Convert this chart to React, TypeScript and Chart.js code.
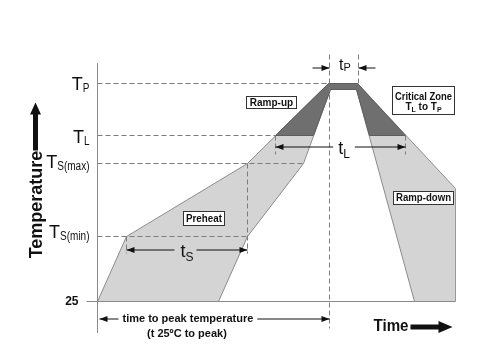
import React, { useEffect, useRef } from 'react';
import { Chart, registerables } from 'chart.js';

Chart.register(...registerables);

// ---- Data (time units along x, temperature-level units along y; schematic profile) ----
const envelopeTime = [0, 29, 150, 231, 260, 358, 358, 317, 259, 233, 206, 150, 121, 0];
const envelopeTemp = [0, 65, 138, 218, 218, 113, 0, 0, 212, 212, 138, 65, 0, 0];

const criticalTime = [178, 231, 260, 308, 272, 259, 233, 216, 178];
const criticalTemp = [166, 218, 218, 166, 166, 212, 212, 166, 166];

// temperature levels: 25, Ts(min), Ts(max), TL, TP
const levelValues = [0, 65, 138, 166, 218];
const levelMain = ['25', 'T', 'T', 'T', 'T'];
const levelSub = ['', 'S(min)', 'S(max)', 'L', 'P'];
const levelGuideEnd = [0, 150, 206, 178, 231];

// time spans
const tsSpan = [29, 150];
const tLSpan = [178, 308];
const tpSpan = [232, 261];
const peakSpan = [0, 232];

// zone labels
const zoneNames = ['Ramp-up', 'Preheat', 'Ramp-down'];
const zoneX = [[148, 198], [85, 126], [295, 355]];
const zoneY = [[206, 194], [91, 77], [111, 98]];

const X_MAX = 358;
const Y_MAX = 238;

const FONT = 'Arial, "Liberation Sans", Helvetica, sans-serif';
const GUIDE = '#7c7c7c';
const AXIS = '#8a8a8a';
const INK = '#111111';

const seg = (x0: number, y0: number, x1: number, y1: number) => [
  { x: x0, y: y0 },
  { x: x1, y: y1 },
];

const guideSegments: { x: number; y: number }[][] = [
  ...levelValues.slice(1).map((v, i) => seg(0, v, levelGuideEnd[i + 1], v)),
  seg(tsSpan[1], levelValues[2], tsSpan[1], 48),
  seg(tsSpan[0], levelValues[1], tsSpan[0], 48),
  seg(tpSpan[0], 247, tpSpan[0], -27),
  seg(tpSpan[1], 247, tpSpan[1], levelValues[4]),
  seg(tLSpan[0], levelValues[3], tLSpan[0], 147),
  seg(tLSpan[1], levelValues[3], tLSpan[1], 147),
];

function subText(
  ctx: CanvasRenderingContext2D,
  main: string,
  sub: string,
  x: number,
  y: number,
  mainFont: string,
  subFont: string,
  subDy: number,
  align: 'left' | 'right' | 'center',
  subScale = 1
) {
  ctx.font = mainFont;
  const w1 = ctx.measureText(main).width;
  ctx.font = subFont;
  const w2 = sub ? ctx.measureText(sub).width * subScale : 0;
  const total = w1 + w2;
  const x0 = align === 'left' ? x : align === 'right' ? x - total : x - total / 2;
  ctx.textAlign = 'left';
  ctx.textBaseline = 'alphabetic';
  ctx.font = mainFont;
  ctx.fillText(main, x0, y);
  if (sub) {
    ctx.font = subFont;
    ctx.fillText(sub, x0 + w1, y + subDy, w2);
  }
  return [x0, x0 + total];
}

function head(ctx: CanvasRenderingContext2D, tipX: number, y: number, dir: number) {
  ctx.beginPath();
  ctx.moveTo(tipX, y);
  ctx.lineTo(tipX - dir * 8, y - 3);
  ctx.lineTo(tipX - dir * 8, y + 3);
  ctx.closePath();
  ctx.fill();
}

function hLine(ctx: CanvasRenderingContext2D, a: number, b: number, y: number) {
  ctx.beginPath();
  ctx.moveTo(a, y);
  ctx.lineTo(b, y);
  ctx.stroke();
}

const overlay = {
  id: 'overlay',
  afterDatasetsDraw(chart: any) {
    const ctx: CanvasRenderingContext2D = chart.ctx;
    const px = (v: number) => chart.scales.x.getPixelForValue(v);
    const py = (v: number) => chart.scales.y.getPixelForValue(v);
    ctx.save();
    ctx.fillStyle = INK;
    ctx.strokeStyle = INK;
    ctx.lineWidth = 1;

    // level labels
    const nudges = [0, 1, 4, 7, 6];
    levelValues.forEach((v, i) => {
      if (i === 0) {
        ctx.font = `bold 12px ${FONT}`;
        ctx.textAlign = 'right';
        ctx.textBaseline = 'middle';
        ctx.fillText(levelMain[i], px(-19), py(v));
      } else {
        subText(ctx, levelMain[i], levelSub[i], px(-8), py(v) + nudges[i], `18px ${FONT}`, `12.5px ${FONT}`, 2, 'right', 0.8);
      }
    });

    // ts arrow
    {
      const y = py(52) + 0.5;
      const a = px(tsSpan[0]);
      const b = px(tsSpan[1]);
      const c = (a + b) / 2;
      const [l, r] = subText(ctx, 't', 'S', c, y + 7, `18px ${FONT}`, `12px ${FONT}`, 4, 'center');
      hLine(ctx, a, l - 6, y);
      hLine(ctx, r + 3, b, y);
      head(ctx, a, y, -1);
      head(ctx, b, y, 1);
    }
    // tL arrow
    {
      const y = py(155) + 0.5;
      const a = px(tLSpan[0]);
      const b = px(tLSpan[1]);
      const c = px((tpSpan[0] + tpSpan[1]) / 2);
      const [l, r] = subText(ctx, 't', 'L', c, y + 7, `18px ${FONT}`, `12px ${FONT}`, 4, 'center');
      hLine(ctx, a, l - 5, y);
      hLine(ctx, r + 5, b, y);
      head(ctx, a, y, -1);
      head(ctx, b, y, 1);
    }
    // tp arrows
    {
      const y = py(234) + 0.5;
      const a = px(tpSpan[0]);
      const b = px(tpSpan[1]);
      hLine(ctx, a - 17, a, y);
      hLine(ctx, b, b + 17, y);
      head(ctx, a, y, 1);
      head(ctx, b, y, -1);
      subText(ctx, 't', 'P', (a + b) / 2 + 1, py(232), `16px ${FONT}`, `11px ${FONT}`, 1, 'center');
    }
    // time to peak
    {
      const y = py(-17) + 0.5;
      const a = px(peakSpan[0]);
      const b = px(peakSpan[1]);
      ctx.font = `bold 11px ${FONT}`;
      ctx.textAlign = 'left';
      ctx.textBaseline = 'middle';
      const text = 'time to peak temperature';
      const tx = px(25);
      const w = ctx.measureText(text).width;
      ctx.fillText(text, tx, y);
      hLine(ctx, a + 2, tx - 4, y);
      hLine(ctx, tx + w + 4, b, y);
      head(ctx, a + 2, y, -1);
      head(ctx, b, y, 1);
      ctx.textAlign = 'center';
      ctx.fillText('(t 25ºC to peak)', tx + w / 2 - 1, py(-32));
    }

    // zone boxes
    const box = (x0: number, x1: number, y0: number, y1: number) => {
      const L = Math.round(px(x0)) + 0.5;
      const R = Math.round(px(x1)) + 0.5;
      const T = Math.round(py(y0)) + 0.5;
      const B = Math.round(py(y1)) + 0.5;
      ctx.fillStyle = '#ffffff';
      ctx.fillRect(L, T, R - L, B - T);
      ctx.strokeStyle = '#333333';
      ctx.strokeRect(L, T, R - L, B - T);
      ctx.fillStyle = INK;
      return { L, R, T, B };
    };
    zoneNames.forEach((name, i) => {
      const { L, R, T, B } = box(zoneX[i][0], zoneX[i][1], zoneY[i][0], zoneY[i][1]);
      ctx.font = `bold 10px ${FONT}`;
      ctx.textAlign = 'center';
      ctx.textBaseline = 'middle';
      ctx.fillText(name, (L + R) / 2, (T + B) / 2 + 0.5, R - L - 5);
    });
    {
      const { L, R, T } = box(294, 356, 216, 188);
      const c = (L + R) / 2;
      ctx.font = `bold 10px ${FONT}`;
      ctx.textAlign = 'center';
      ctx.textBaseline = 'alphabetic';
      ctx.fillText('Critical Zone', c, T + 13, R - L - 5);
      // "TL to TP"
      const mf = `bold 10px ${FONT}`;
      const sf = `bold 7px ${FONT}`;
      ctx.font = mf;
      const wT = ctx.measureText('T').width;
      const wTo = ctx.measureText(' to ').width;
      ctx.font = sf;
      const wL = ctx.measureText('L').width;
      const wP = ctx.measureText('P').width;
      const total = wT * 2 + wTo + wL + wP;
      let x = c - total / 2;
      const by = T + 23;
      ctx.textAlign = 'left';
      ctx.font = mf; ctx.fillText('T', x, by); x += wT;
      ctx.font = sf; ctx.fillText('L', x, by + 2); x += wL;
      ctx.font = mf; ctx.fillText(' to ', x, by); x += wTo;
      ctx.fillText('T', x, by); x += wT;
      ctx.font = sf; ctx.fillText('P', x, by + 2);
    }

    // Temperature axis title with arrow
    {
      const cx = px(-62);
      const tip = py(199);
      const base = py(151);
      ctx.fillStyle = INK;
      ctx.beginPath();
      ctx.moveTo(cx, tip);
      ctx.lineTo(cx - 5.5, tip + 12);
      ctx.lineTo(cx + 5.5, tip + 12);
      ctx.closePath();
      ctx.fill();
      ctx.fillRect(cx - 2.5, tip + 11, 5, base - tip - 11);
      ctx.save();
      ctx.translate(cx, py(97));
      ctx.rotate(-Math.PI / 2);
      ctx.font = `bold 18px ${FONT}`;
      ctx.textAlign = 'center';
      ctx.textBaseline = 'alphabetic';
      ctx.fillText('Temperature', 0, 6.5);
      ctx.restore();
    }
    // Time axis title with arrow
    {
      const ty = py(-25);
      ctx.font = `bold 17px ${FONT}`;
      ctx.textAlign = 'left';
      ctx.textBaseline = 'middle';
      ctx.fillText('Time', px(276), ty, 35);
      const a = px(313);
      const b = px(355);
      ctx.fillRect(a, ty - 2, b - a - 12, 5);
      ctx.beginPath();
      ctx.moveTo(b, ty + 0.5);
      ctx.lineTo(b - 14, ty - 5.5);
      ctx.lineTo(b - 14, ty + 6.5);
      ctx.closePath();
      ctx.fill();
    }
    ctx.restore();
  },
};

export default function App() {
  const ref = useRef<HTMLCanvasElement>(null);
  useEffect(() => {
    if (!ref.current) return;
    const datasets: any[] = [
      {
        data: envelopeTime.map((t, i) => ({ x: t, y: envelopeTemp[i] })),
        showLine: true,
        fill: 'shape',
        backgroundColor: '#d4d4d4',
        borderColor: '#8c8c8c',
        borderWidth: 1,
        pointRadius: 0,
        tension: 0,
        order: 10,
      },
      {
        data: criticalTime.map((t, i) => ({ x: t, y: criticalTemp[i] })),
        showLine: true,
        fill: 'shape',
        backgroundColor: '#6f6f6f',
        borderColor: '#5e5e5e',
        borderWidth: 1,
        pointRadius: 0,
        tension: 0,
        order: 9,
      },
      ...guideSegments.map((s) => ({
        data: s,
        showLine: true,
        fill: false,
        borderColor: GUIDE,
        borderWidth: 1,
        borderDash: [5, 3],
        pointRadius: 0,
        clip: false,
        order: 5,
      })),
      {
        data: seg(0, Y_MAX, 0, -31),
        showLine: true,
        fill: false,
        borderColor: AXIS,
        borderWidth: 1,
        pointRadius: 0,
        clip: false,
        order: 4,
      },
      {
        data: seg(-11, 0, X_MAX, 0),
        showLine: true,
        fill: false,
        borderColor: AXIS,
        borderWidth: 1,
        pointRadius: 0,
        clip: false,
        order: 4,
      },
    ];
    const chart = new Chart(ref.current, {
      type: 'scatter',
      data: { datasets },
      options: {
        animation: false,
        responsive: false,
        events: [],
        layout: { padding: { left: 97.5, top: 63.5, right: 30.5, bottom: 59.5 } },
        scales: {
          x: { type: 'linear', min: 0, max: X_MAX, display: false },
          y: { type: 'linear', min: 0, max: Y_MAX, display: false },
        },
        plugins: { legend: { display: false }, tooltip: { enabled: false } },
      },
      plugins: [overlay],
    });
    return () => chart.destroy();
  }, []);
  return (
    <div style={{ position: 'fixed', left: 0, top: 0, width: 486, height: 361, background: '#ffffff' }}>
      <canvas ref={ref} width={486} height={361} />
    </div>
  );
}
